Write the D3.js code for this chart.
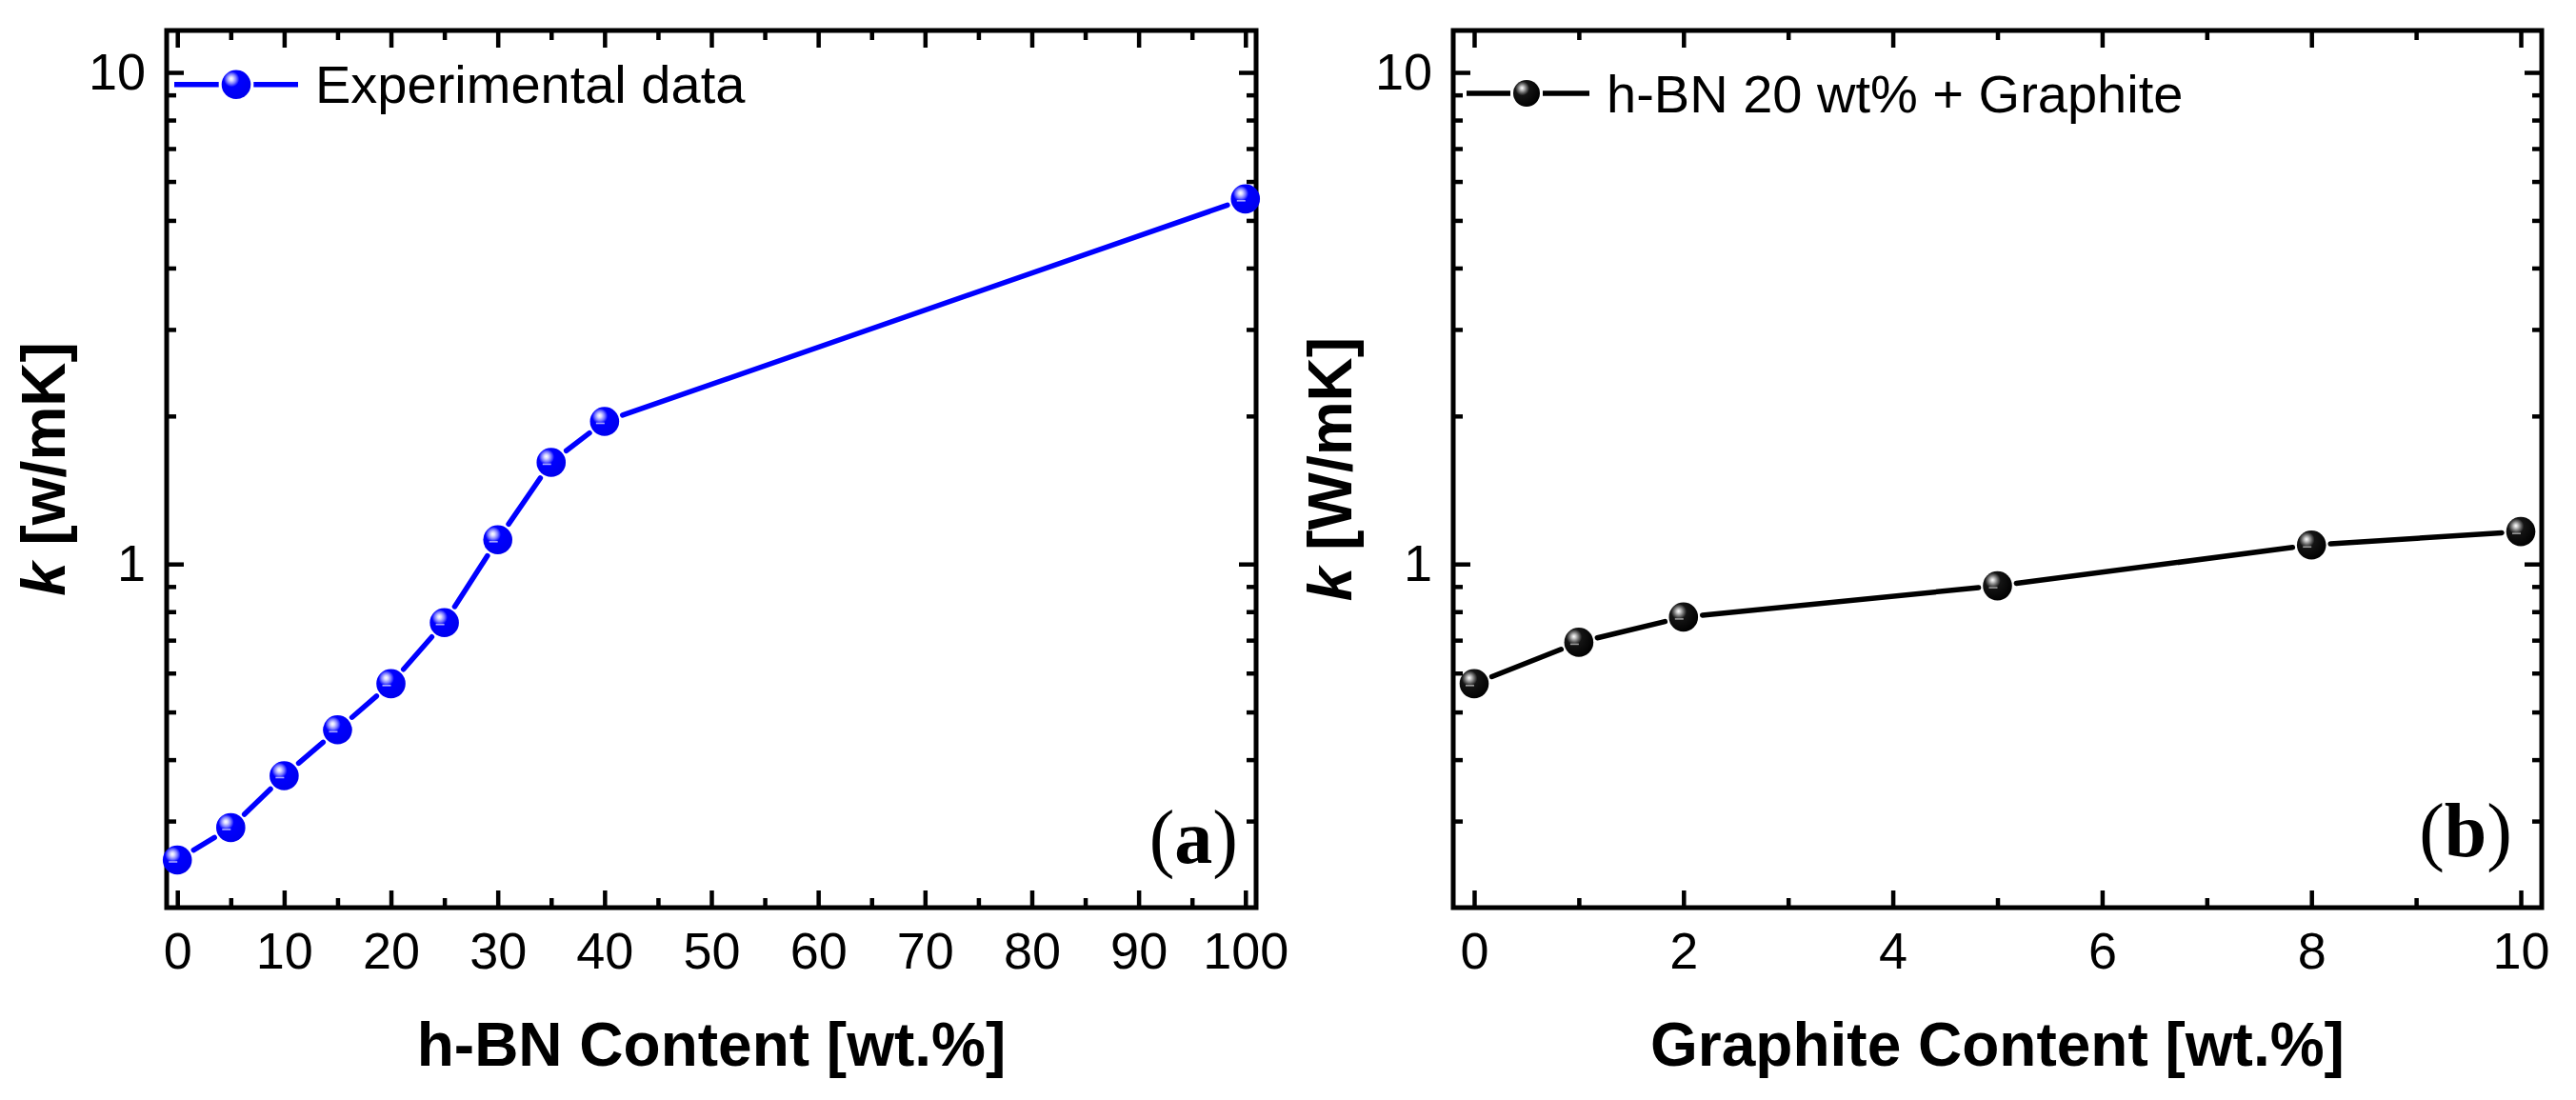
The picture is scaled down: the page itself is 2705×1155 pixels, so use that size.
<!DOCTYPE html>
<html>
<head>
<meta charset="utf-8">
<script src="https://cdn.jsdelivr.net/npm/d3@7/dist/d3.min.js"></script>
<style>
  html, body { margin: 0; padding: 0; background: #fff; }
  svg { display: block; }
  text { font-family: "Liberation Sans", Arial, sans-serif; fill: #000; }
</style>
</head>
<body>
<svg id="chart" width="2705" height="1155"></svg>
<script>
// ---- Data ----
const hbnContent = [0, 5, 10, 15, 20, 25, 30, 35, 40, 100];
const hbnK = [0.25, 0.291, 0.371, 0.46, 0.571, 0.76, 1.12, 1.61, 1.95, 5.53];
const graphiteContent = [0, 1, 2, 5, 8, 10];
const graphiteK = [0.571, 0.693, 0.78, 0.903, 1.093, 1.164];

const xTicksA = [0, 10, 20, 30, 40, 50, 60, 70, 80, 90, 100];
const xMinorA = [5, 15, 25, 35, 45, 55, 65, 75, 85, 95];
const xTicksB = [0, 2, 4, 6, 8, 10];
const xMinorB = [1, 3, 5, 7, 9];
const yTicks = [1, 10];
const yMinor = [0.3, 0.4, 0.5, 0.6, 0.7, 0.8, 0.9, 2, 3, 4, 5, 6, 7, 8, 9];
const yDomain = [0.2, 12.17];

const legendA = "Experimental data";
const legendB = "h-BN 20 wt% + Graphite";

const svg = d3.select("#chart");
const defs = svg.append("defs");

function makeGrad(id, stops) {
  const g = defs.append("radialGradient").attr("id", id)
    .attr("cx", "0.36").attr("cy", "0.34").attr("r", "0.7")
    .attr("fx", "0.33").attr("fy", "0.3");
  stops.forEach(s => g.append("stop").attr("offset", s[0]).attr("stop-color", s[1]));
}
makeGrad("gBlue", [["0%", "#ffffff"], ["10%", "#d8d8ff"], ["24%", "#7878ff"], ["38%", "#0000ff"], ["100%", "#0000ee"]]);
makeGrad("gBlack", [["0%", "#ffffff"], ["10%", "#c8c8c8"], ["24%", "#6a6a6a"], ["38%", "#141414"], ["100%", "#000000"]]);

function panel(cfg) {
  const { left, right, top, bottom, xDomain, xMajor, xMinor, xs, ys, color, grad, hl, label, yTitle, xTitle, leg, panelLab } = cfg;
  const x = d3.scaleLinear().domain(xDomain).range([left, right]);
  const y = d3.scaleLog().domain(yDomain).range([bottom, top]);
  const g = svg.append("g");

  const styleAxis = (sel, showLabels) => {
    sel.select(".domain").remove();
    sel.selectAll(".tick line").attr("stroke", "#000").attr("stroke-width", 4.5);
    sel.selectAll(".tick text").attr("font-size", 54).attr("font-family", '"Liberation Sans", Arial, sans-serif').attr("fill", "#000");
    if (!showLabels) sel.selectAll(".tick text").remove();
  };

  // bottom
  g.append("g").attr("transform", `translate(0,${bottom})`)
    .call(d3.axisBottom(x).tickValues(xMajor).tickSize(-18).tickPadding(26).tickFormat(d3.format("d")))
    .call(s => styleAxis(s, true));
  g.append("g").attr("transform", `translate(0,${bottom})`)
    .call(d3.axisBottom(x).tickValues(xMinor).tickSize(-10).tickFormat(""))
    .call(s => styleAxis(s, false));
  // top
  g.append("g").attr("transform", `translate(0,${top})`)
    .call(d3.axisTop(x).tickValues(xMajor).tickSize(-18).tickFormat(""))
    .call(s => styleAxis(s, false));
  g.append("g").attr("transform", `translate(0,${top})`)
    .call(d3.axisTop(x).tickValues(xMinor).tickSize(-10).tickFormat(""))
    .call(s => styleAxis(s, false));
  // left
  g.append("g").attr("transform", `translate(${left},0)`)
    .call(d3.axisLeft(y).tickValues(yTicks).tickSize(-18).tickPadding(22).tickFormat(d3.format("d")))
    .call(s => styleAxis(s, true));
  g.append("g").attr("transform", `translate(${left},0)`)
    .call(d3.axisLeft(y).tickValues(yMinor).tickSize(-10).tickFormat(""))
    .call(s => styleAxis(s, false));
  // right
  g.append("g").attr("transform", `translate(${right},0)`)
    .call(d3.axisRight(y).tickValues(yTicks).tickSize(-18).tickFormat(""))
    .call(s => styleAxis(s, false));
  g.append("g").attr("transform", `translate(${right},0)`)
    .call(d3.axisRight(y).tickValues(yMinor).tickSize(-10).tickFormat(""))
    .call(s => styleAxis(s, false));

  // frame
  g.append("rect").attr("x", left).attr("y", top).attr("width", right - left).attr("height", bottom - top)
    .attr("fill", "none").attr("stroke", "#000").attr("stroke-width", 5);

  // line segments with gaps around markers
  const pts = xs.map((v, i) => [x(v), y(ys[i])]);
  const gap = 20;
  const segs = [];
  for (let i = 0; i < pts.length - 1; i++) {
    const [x1, y1] = pts[i], [x2, y2] = pts[i + 1];
    const dx = x2 - x1, dy = y2 - y1, L = Math.hypot(dx, dy);
    if (L <= 2 * gap) continue;
    const ux = dx / L, uy = dy / L;
    segs.push([x1 + ux * gap, y1 + uy * gap, x2 - ux * gap, y2 - uy * gap]);
  }
  g.selectAll(".seg").data(segs).enter().append("line")
    .attr("x1", d => d[0]).attr("y1", d => d[1]).attr("x2", d => d[2]).attr("y2", d => d[3])
    .attr("stroke", color).attr("stroke-width", 5.5).attr("stroke-linecap", "round");

  const drawMarker = (sel, r, withLine) => {
    sel.append("circle").attr("r", r).attr("fill", `url(#${grad})`);
    if (withLine) {
      sel.append("line").attr("x1", -9).attr("x2", 0).attr("y1", 2).attr("y2", 2)
        .attr("stroke", hl).attr("stroke-width", 1.6);
    }
  };
  const mk = g.selectAll(".mk").data(pts).enter().append("g")
    .attr("transform", d => `translate(${d[0]},${d[1]})`);
  mk.each(function () { drawMarker(d3.select(this), 15.3, true); });

  // legend
  g.append("line").attr("x1", leg.x0).attr("x2", leg.mx - leg.r - 3).attr("y1", leg.y).attr("y2", leg.y)
    .attr("stroke", color).attr("stroke-width", 5.5);
  g.append("line").attr("x1", leg.mx + leg.r + 3).attr("x2", leg.x1).attr("y1", leg.y).attr("y2", leg.y)
    .attr("stroke", color).attr("stroke-width", 5.5);
  const lm = g.append("g").attr("transform", `translate(${leg.mx},${leg.y})`);
  drawMarker(lm, leg.r, false);
  g.append("text").attr("x", leg.tx).attr("y", leg.ty).attr("font-size", 56).text(label);

  // panel label
  const pl = g.append("text").attr("x", panelLab.x).attr("y", panelLab.y).attr("text-anchor", "end")
    .attr("font-size", 80).style("font-family", '"Liberation Serif", "Times New Roman", serif');
  pl.append("tspan").text("(");
  pl.append("tspan").attr("font-weight", "bold").text(panelLab.t);
  pl.append("tspan").text(")");

  // x title
  g.append("text").attr("x", (left + right) / 2).attr("y", 1119).attr("text-anchor", "middle")
    .attr("font-size", 64).attr("font-weight", "bold").text(xTitle);

  // y title
  const yt = g.append("text").attr("transform", `translate(${left - 107},${(top + bottom) / 2}) rotate(-90)`)
    .attr("text-anchor", "middle").attr("font-size", 64).attr("font-weight", "bold");
  yt.append("tspan").attr("font-style", "italic").text("k");
  yt.append("tspan").text(" " + yTitle);
}

panel({
  left: 175, right: 1319, top: 32, bottom: 953,
  xDomain: [-1, 101], xMajor: xTicksA, xMinor: xMinorA,
  xs: hbnContent, ys: hbnK, color: "#0000ff", grad: "gBlue", hl: "#a8a8ff",
  label: legendA, yTitle: "[w/mK]", xTitle: "h-BN Content [wt.%]",
  leg: { x0: 183, x1: 313, mx: 248, y: 88.7, r: 15.3, tx: 331, ty: 108 },
  panelLab: { x: 1300, y: 906, t: "a" }
});

panel({
  left: 1526, right: 2669, top: 32, bottom: 953,
  xDomain: [-0.2, 10.2], xMajor: xTicksB, xMinor: xMinorB,
  xs: graphiteContent, ys: graphiteK, color: "#000000", grad: "gBlack", hl: "#9a9a9a",
  label: legendB, yTitle: "[W/mK]", xTitle: "Graphite Content [wt.%]",
  leg: { x0: 1540, x1: 1669, mx: 1603, y: 98, r: 14, tx: 1687, ty: 118 },
  panelLab: { x: 2638, y: 899, t: "b" }
});
</script>
</body>
</html>
